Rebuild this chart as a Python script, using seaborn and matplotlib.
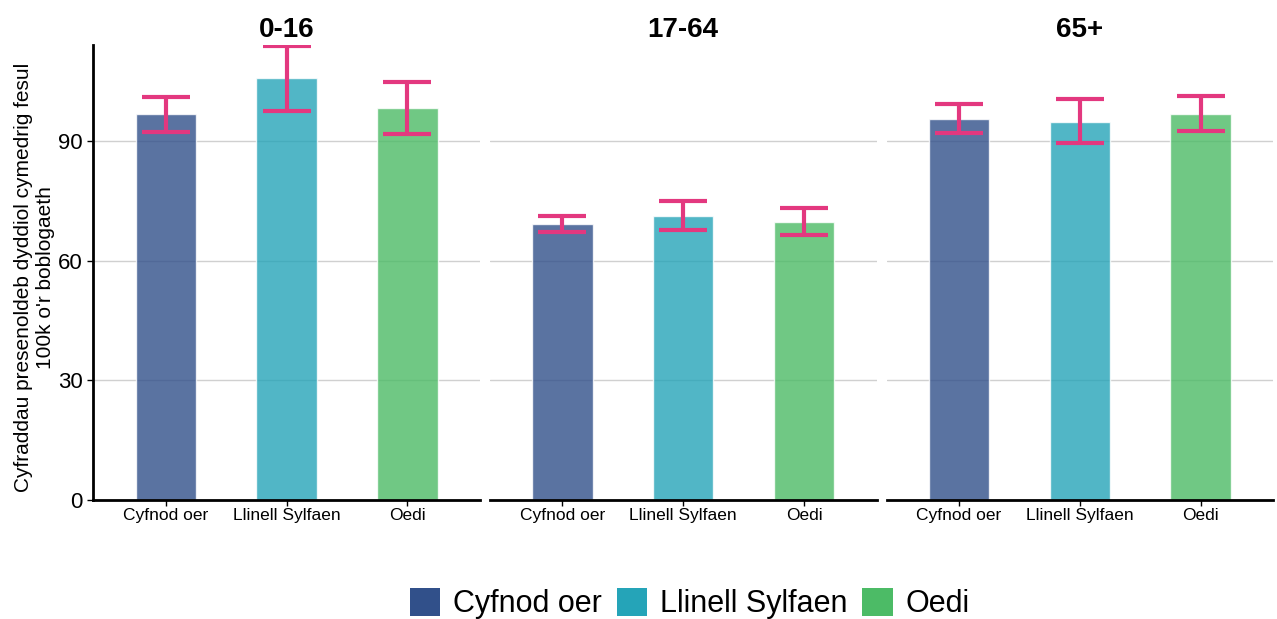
import numpy as np
import pandas as pd
import seaborn as sns
import matplotlib.pyplot as plt
from matplotlib.patches import Patch

# values
age_groups = ['0-16', '17-64', '65+']
periods = ['Cyfnod oer', 'Llinell Sylfaen', 'Oedi']
mean_rate = {
    '0-16': [96.7, 105.9, 98.2],
    '17-64': [69.1, 71.3, 69.7],
    '65+': [95.5, 94.8, 96.8],
}
ci_low = {
    '0-16': [92.3, 97.6, 91.8],
    '17-64': [67.1, 67.8, 66.4],
    '65+': [92.0, 89.5, 92.5],
}
ci_high = {
    '0-16': [101.1, 113.9, 104.7],
    '17-64': [71.1, 74.9, 73.1],
    '65+': [99.2, 100.5, 101.3],
}
colours = ['#31508A', '#25A4B8', '#4CBB66']
err_colour = '#E3387F'
y_label = "Cyfraddau presenoldeb dyddiol cymedrig fesul\n100k o'r boblogaeth"

sns.set_theme(style='white')
plt.rcParams['font.family'] = ['Liberation Sans', 'DejaVu Sans']
plt.rcParams['text.color'] = 'black'
plt.rcParams['axes.labelcolor'] = 'black'

fig, axes = plt.subplots(1, 3, figsize=(12.77, 6.19), dpi=100, sharey=True)
fig.subplots_adjust(left=0.073, right=0.997, top=0.927, bottom=0.192, wspace=0.026)

palette = dict(zip(periods, colours))

for ax, group in zip(axes, age_groups):
    df = pd.DataFrame({'period': periods, 'rate': mean_rate[group]})
    sns.barplot(data=df, x='period', y='rate', hue='period', palette=palette,
                order=periods, width=0.5, alpha=0.8, saturation=1, legend=False, ax=ax)
    lo = np.array(ci_low[group])
    hi = np.array(ci_high[group])
    mid = (lo + hi) / 2
    ax.errorbar(np.arange(len(periods)), mid, yerr=[mid - lo, hi - mid], fmt='none',
                ecolor=err_colour, elinewidth=3, capsize=17.5, capthick=3, zorder=5)
    ax.set_title(group, fontsize=20, fontweight='bold', pad=6, color='black')
    ax.set_xlim(-0.6, 2.6)
    ax.set_ylim(0, 114)
    ax.set_yticks([0, 30, 60, 90])
    ax.yaxis.grid(True, color='#d0d0d0', linewidth=1)
    ax.set_axisbelow(True)
    ax.set_xlabel('')
    ax.set_ylabel('')
    ax.tick_params(axis='x', labelsize=12.5, bottom=True, length=4, width=1, colors='black', pad=2)
    ax.tick_params(axis='y', labelsize=16, left=(ax is axes[0]), length=4, width=1, colors='black')
    for side in ['top', 'right', 'left']:
        ax.spines[side].set_visible(False)
    ax.spines['bottom'].set_color('black')
    ax.spines['bottom'].set_linewidth(2)

axes[0].spines['left'].set_visible(True)
axes[0].spines['left'].set_color('black')
axes[0].spines['left'].set_linewidth(2)
axes[0].set_ylabel(y_label, fontsize=15, labelpad=4)
axes[0].yaxis.set_label_coords(-0.1, 0.49)

handles = [Patch(facecolor=c, edgecolor='none') for c in colours]
fig.legend(handles, periods, loc='lower center', ncol=3, frameon=False,
           fontsize=22, bbox_to_anchor=(0.54, -0.045), handlelength=1.0,
           handleheight=1.0, handletextpad=0.4, columnspacing=0.5)

plt.savefig('out.png', dpi=100)
plt.close()
